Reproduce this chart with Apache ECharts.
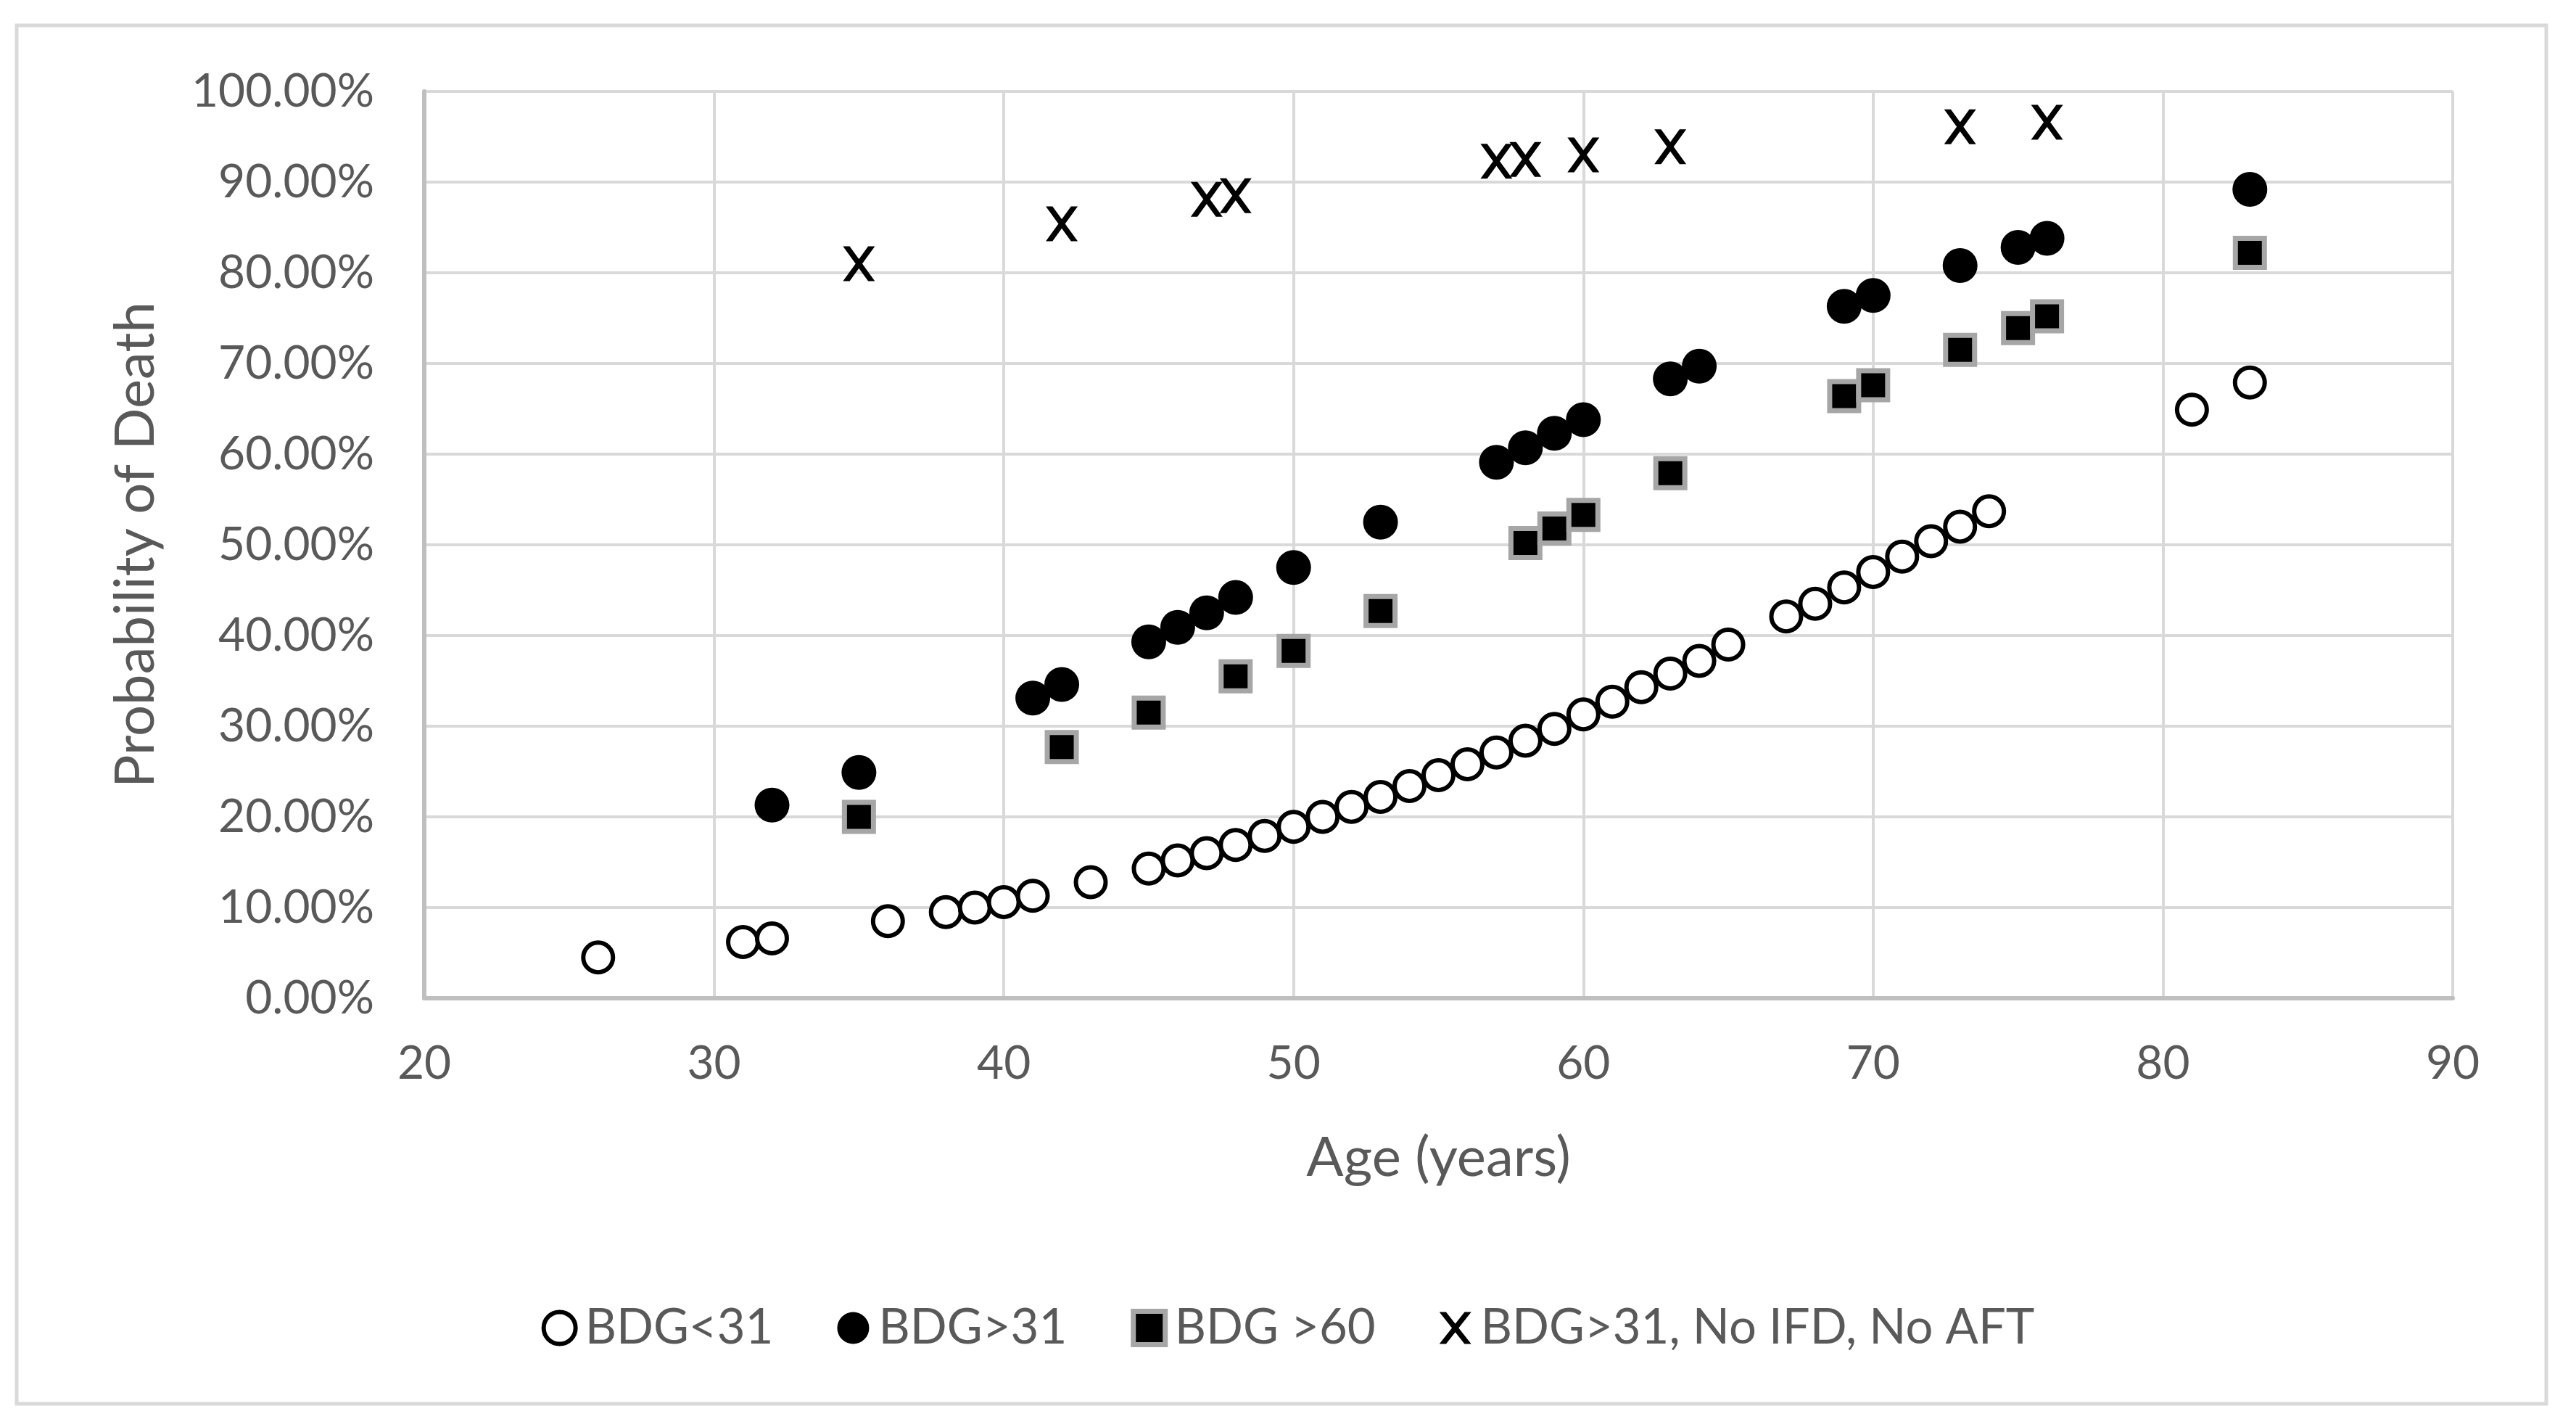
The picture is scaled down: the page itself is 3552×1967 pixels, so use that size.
<!DOCTYPE html>
<html>
<head>
<meta charset="utf-8">
<script src="https://cdn.jsdelivr.net/npm/echarts@6/dist/echarts.min.js"></script>
<style>
html,body{margin:0;padding:0;background:#fff;}
#chart{width:3552px;height:1967px;}
</style>
</head>
<body>
<div id="chart"></div>
<script>
// ---- data ----
const seriesNames = ['BDG<31', 'BDG>31', 'BDG >60', 'BDG>31, No IFD, No AFT'];

const ageLow = [26,31,32,36,38,39,40,41,43,45,46,47,48,49,50,51,52,53,54,55,56,57,58,59,60,61,62,63,64,65,67,68,69,70,71,72,73,74,81,83];
const probLow = [4.5,6.2,6.6,8.5,9.5,10.0,10.6,11.3,12.8,14.3,15.2,16.0,16.9,17.9,18.9,20.0,21.1,22.2,23.4,24.6,25.8,27.1,28.4,29.7,31.3,32.7,34.3,35.8,37.2,39.0,42.1,43.5,45.3,47.0,48.7,50.4,52.0,53.7,64.9,67.9];

const ageHigh = [32,35,41,42,45,46,47,48,50,53,57,58,59,60,63,64,69,70,73,75,76,83];
const probHigh = [21.3,24.9,33.1,34.6,39.3,40.9,42.5,44.2,47.5,52.5,59.1,60.7,62.3,63.8,68.3,69.7,76.3,77.5,80.8,82.8,83.8,89.2];

const ageVery = [35,42,45,48,50,53,58,59,60,63,69,70,73,75,76,83];
const probVery = [20.0,27.7,31.5,35.5,38.3,42.7,50.2,51.8,53.3,57.9,66.4,67.6,71.5,73.9,75.2,82.2];

const ageNoIfd = [35,42,47,48,57,58,60,63,73,76];
const probNoIfd = [81.0,85.4,88.1,88.5,92.3,92.5,93.0,93.9,96.1,96.6];

const xTicks = [20,30,40,50,60,70,80,90];
const yTicks = [0,10,20,30,40,50,60,70,80,90,100];

function pairs(xs, ys){ return xs.map((x,i)=>[x, ys[i]]); }

const FONT = 'Lato';
const TXT = '#595959';
const X_PATH = 'path://M0,0 L21,0 L100,100 L79,100 Z M79,0 L100,0 L21,100 L0,100 Z';

const openStyle = {color: '#ffffff', borderColor: '#000000', borderWidth: 6, opacity: 1};
const fillStyle = {color: '#000000', borderWidth: 0, opacity: 1};
const squareStyle = {color: '#000000', borderColor: '#a6a6a6', borderWidth: 7, opacity: 1};
const xStyle = {color: '#000000', borderWidth: 0, opacity: 1};

const chart = echarts.init(document.getElementById('chart'), null, {renderer:'canvas'});
const option = {
  backgroundColor: '#ffffff',
  animation: false,
  textStyle: {fontFamily: FONT},
  graphic: [{
    type: 'rect', silent: true, z: -10,
    shape: {x: 23, y: 35, width: 3488, height: 1900},
    style: {fill: 'none', stroke: '#d9d9d9', lineWidth: 5}
  }],
  grid: {left: 585, right: 170, top: 126, bottom: 591, containLabel: false, outerBoundsMode: 'none'},
  xAxis: {
    type: 'value', min: xTicks[0], max: xTicks[xTicks.length-1], interval: 10,
    name: 'Age (years)', nameLocation: 'middle', nameGap: 182,
    nameTextStyle: {color: TXT, fontSize: 76, fontFamily: FONT},
    axisLine: {show: true, onZero: false, lineStyle: {color: '#bfbfbf', width: 6}},
    axisTick: {show: false},
    axisLabel: {color: TXT, fontSize: 64, fontFamily: FONT, margin: 58},
    splitLine: {show: true, lineStyle: {color: '#d9d9d9', width: 4}}
  },
  yAxis: {
    type: 'value', min: yTicks[0], max: yTicks[yTicks.length-1], interval: 10,
    name: 'Probability of Death', nameLocation: 'middle', nameRotate: 90, nameGap: 360,
    nameTextStyle: {color: TXT, fontSize: 76, fontFamily: FONT},
    axisLine: {show: true, lineStyle: {color: '#bfbfbf', width: 6}},
    axisTick: {show: false},
    axisLabel: {color: TXT, fontSize: 64, fontFamily: FONT, margin: 69,
      formatter: v => v.toFixed(2) + '%'},
    splitLine: {show: true, lineStyle: {color: '#d9d9d9', width: 4}}
  },
  legend: {
    top: 1792, left: 'center',
    itemWidth: 44, itemHeight: 46, itemGap: 88,
    textStyle: {color: TXT, fontSize: 67, fontFamily: FONT, padding: [0,0,0,8]},
    data: [
      {name: seriesNames[0], icon: 'circle', itemStyle: openStyle},
      {name: seriesNames[1], icon: 'circle', itemStyle: fillStyle},
      {name: seriesNames[2], icon: 'rect', itemStyle: squareStyle},
      {name: seriesNames[3], icon: X_PATH, itemStyle: xStyle}
    ]
  },
  series: [
    {
      name: seriesNames[0], type: 'scatter', data: pairs(ageLow, probLow),
      symbol: 'circle', symbolSize: 41, itemStyle: openStyle
    },
    {
      name: seriesNames[1], type: 'scatter', data: pairs(ageHigh, probHigh),
      symbol: 'circle', symbolSize: 48, itemStyle: fillStyle
    },
    {
      name: seriesNames[2], type: 'scatter', data: pairs(ageVery, probVery),
      symbol: 'rect', symbolSize: 40, itemStyle: squareStyle
    },
    {
      name: seriesNames[3], type: 'scatter', data: pairs(ageNoIfd, probNoIfd),
      symbol: X_PATH, symbolSize: [44, 48], itemStyle: xStyle
    }
  ]
};
chart.setOption(option);
</script>
</body>
</html>
